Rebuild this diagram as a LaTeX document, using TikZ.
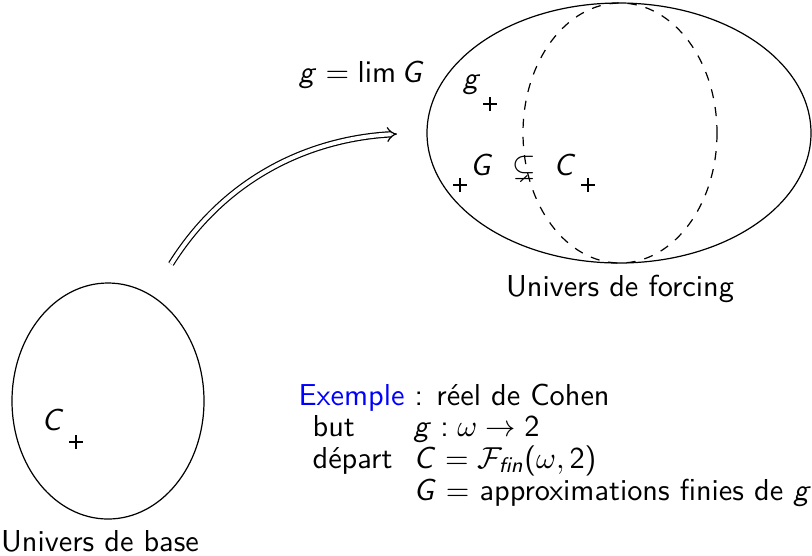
\documentclass[tikz,border=0pt]{standalone}
\usepackage{amssymb}
\usetikzlibrary{arrows.meta}
\DeclareSymbolFont{sfit}{OT1}{cmss}{m}{sl}
\DeclareMathSymbol{g}{\mathalpha}{sfit}{`g}
\DeclareMathSymbol{G}{\mathalpha}{sfit}{`G}
\DeclareMathSymbol{C}{\mathalpha}{sfit}{`C}
\SetSymbolFont{operators}{normal}{OT1}{cmss}{m}{n}
\SetMathAlphabet{\mathit}{normal}{OT1}{cmss}{m}{sl}
\tikzset{
  plusmark/.pic={\draw (-7,0)--(7,0) (0,-7)--(0,7);},
  txt/.style={font=\sffamily, inner sep=0pt},
  univ/.style={draw},
}
\begin{document}
\begin{tikzpicture}[x=0.33pt,y=-0.33pt, every node/.style={txt}]
\useasboundingbox (0,0) rectangle (812,555);
% universes
\draw[univ] (619,133) ellipse [x radius=192, y radius=130];
\draw[univ, dashed] (620,133) ellipse [x radius=97, y radius=130];
\draw[univ] (108,401) ellipse [x radius=96, y radius=118];
% labels
\node[anchor=base] (ub) at (100,551) {Univers de base};
\node[anchor=base] (uf) at (620,296) {Univers de forcing};
\node[anchor=base] (lim) at (362,82) {$g = \lim G$};
\node[anchor=base] (gf) at (472,88) {$g$};
\node[anchor=base] (Gf) at (482,175) {$G$};
\node[anchor=base] (sub) at (524,175) {$\subsetneq$};
\node[anchor=base] (Cf) at (565,175) {$C$};
\node[anchor=base] (Cb) at (53,430) {$C$};
\pic at (490,104) {plusmark};
\pic at (460,185) {plusmark};
\pic at (588,185) {plusmark};
\pic at (76,442) {plusmark};
% example text
\node[anchor=base west] (ex) at (298,405) {\textcolor{blue}{Exemple} : réel de Cohen};
\node[anchor=base west] (but) at (312,436) {but};
\node[anchor=base west] (butm) at (413,436) {$g : \omega \to 2$};
\node[anchor=base west] (dep) at (312,468) {départ};
\node[anchor=base west] (depm) at (413,468) {$C = \mathcal{F}_{\mathit{fin}}(\omega, 2)$};
\node[anchor=base west] (app) at (413,500) {$G =$ approximations finies de $g$};
% arrow
\coordinate (a0) at (171,264);
\coordinate (a1) at (397,134);
\draw[double, double distance=1.3pt, -{Implies}] (a0) .. controls (230,170) and (320,138) .. (a1);
\end{tikzpicture}
\end{document}
